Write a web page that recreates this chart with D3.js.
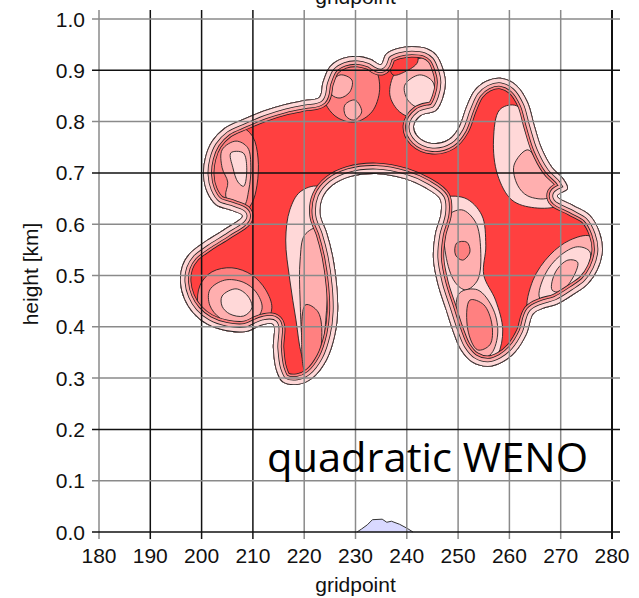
<!DOCTYPE html>
<html>
<head>
<meta charset="utf-8">
<script src="https://cdn.jsdelivr.net/npm/d3@7"></script>
<style>
body {margin: 0; background: #fff}
text {font-family: "Liberation Sans", Arial, sans-serif; fill: #111}
</style>
</head>
<body>
<div id="chart"></div>
<script>
// thermal bubble, quadratic WENO run: contour bands of the bubble
// read off the picture as outline polygons in (gridpoint, height km)

let xTicks = [180, 190, 200, 210, 220, 230, 240, 250, 260, 270, 280]
let yTicks = [0.0, 0.1, 0.2, 0.3, 0.4, 0.5, 0.6, 0.7, 0.8, 0.9, 1.0]
// lines that came out crisp black in the scan, the rest look grey
let darkX = [190, 200, 210, 280]
let darkY = [0.0, 0.2, 0.7, 0.9]

// outer edge of the bubble (outermost contour), goes round the arch and its hole
let outline = [
  [195.8,0.487],[196.2,0.519],[197.7,0.544],[200.7,0.567],[204.5,0.591],[207.9,0.616],
  [205.9,0.626],[202.8,0.637],[201.0,0.663],[200.3,0.696],[200.7,0.731],[202.0,0.762],
  [204.5,0.788],[208.1,0.805],[212.0,0.821],[216.2,0.834],[220.1,0.842],[222.9,0.848],
  [223.6,0.877],[225.0,0.908],[227.5,0.924],[230.5,0.928],[233.0,0.922],[234.9,0.912],
  [235.9,0.932],[238.1,0.943],[241.0,0.947],[243.9,0.943],[245.8,0.930],[247.0,0.906],
  [247.6,0.877],[247.0,0.844],[245.7,0.821],[242.7,0.811],[241.4,0.791],[242.3,0.770],
  [245.1,0.758],[248.2,0.766],[250.1,0.789],[251.5,0.827],[253.1,0.860],[255.4,0.879],
  [258.5,0.885],[261.4,0.871],[263.6,0.838],[264.9,0.793],[266.3,0.749],[268.3,0.712],
  [270.6,0.688],[271.4,0.669],[269.4,0.655],[272.5,0.637],[275.7,0.618],[277.6,0.585],
  [278.2,0.548],[277.2,0.511],[275.3,0.483],[272.7,0.464],[269.4,0.444],[266.5,0.435],
  [264.7,0.425],[263.4,0.386],[261.2,0.351],[258.7,0.331],[255.8,0.322],[252.7,0.331],
  [250.5,0.355],[249.0,0.390],[247.6,0.433],[246.0,0.483],[245.1,0.534],[245.5,0.581],
  [246.6,0.622],[246.4,0.649],[243.5,0.671],[239.6,0.688],[234.0,0.698],[228.9,0.692],
  [225.6,0.676],[223.6,0.651],[223.2,0.618],[224.4,0.585],[225.6,0.538],[226.4,0.481],
  [226.6,0.429],[226.0,0.382],[224.4,0.335],[221.7,0.300],[218.8,0.287],[215.8,0.292],
  [214.5,0.316],[213.9,0.359],[213.9,0.404],[212.1,0.404],[208.6,0.390],[204.7,0.392],
  [201.0,0.405],[198.3,0.427],[196.6,0.454]
]

// weaker (lighter) patches inside the bubble, level 1 = lightest pink, 4 = red
let swirlTopLeft = [
  {level: 3, pts: [[202.0,0.754],[204.5,0.780],[207.9,0.788],[210.0,0.770],[211.0,0.729],[210.8,0.676],
    [209.8,0.641],[207.9,0.620],[205.1,0.620],[202.6,0.637],[201.4,0.676],[201.2,0.719]]},
  {level: 2, pts: [[204.0,0.745],[206.7,0.762],[209.0,0.749],[209.6,0.710],[209.2,0.667],[208.2,0.635],
    [206.1,0.634],[204.7,0.655],[205.1,0.682],[204.0,0.710]]},
  {level: 1, pts: [[205.7,0.739],[208.1,0.739],[208.8,0.710],[208.2,0.674],[207.1,0.682],[206.1,0.710]]}
]
let swirlBottomLeft = [
  {level: 3, pts: [[199.7,0.481],[202.0,0.507],[205.9,0.515],[209.8,0.501],[212.5,0.472],[213.7,0.437],
    [212.5,0.409],[209.0,0.394],[204.7,0.394],[201.0,0.409],[199.3,0.442]]},
  {level: 2, pts: [[201.6,0.472],[204.5,0.491],[208.1,0.487],[210.6,0.468],[211.8,0.437],[210.4,0.413],
    [207.1,0.405],[203.6,0.417],[201.6,0.442]]},
  {level: 1, pts: [[204.0,0.460],[206.7,0.474],[209.0,0.460],[209.8,0.437],[208.2,0.421],[205.5,0.425],[204.0,0.440]]}
]
let leftColumn = [
  {level: 1, pts: [[219.2,0.663],[222.7,0.674],[226.0,0.647],[227.9,0.569],[228.5,0.472],[227.9,0.374],
    [226.0,0.312],[221.5,0.296],[219.5,0.345],[218.4,0.413],[217.2,0.491],[216.4,0.569],[217.2,0.628]]},
  {level: 2, pts: [[220.1,0.579],[222.7,0.593],[224.2,0.559],[224.6,0.491],[224.2,0.413],[223.4,0.345],
    [221.5,0.312],[219.9,0.355],[219.2,0.452],[219.2,0.530]]},
  {level: 3, pts: [[220.3,0.443],[222.7,0.429],[223.4,0.374],[222.1,0.320],[220.3,0.312],[219.5,0.374]]}
]
let rightColumn = [
  {level: 1, pts: [[246.4,0.649],[251.3,0.651],[254.6,0.618],[255.4,0.559],[255.0,0.501],[257.3,0.452],
    [258.7,0.394],[257.7,0.345],[255.2,0.320],[251.3,0.331],[248.0,0.384],[245.7,0.472],[244.5,0.550],[244.9,0.618]]},
  {level: 2, pts: [[247.6,0.612],[250.7,0.628],[253.4,0.604],[254.4,0.550],[253.8,0.491],[251.5,0.472],
    [249.4,0.487],[247.6,0.540]]},
  {level: 2, pts: [[250.3,0.466],[253.8,0.472],[256.9,0.433],[257.7,0.384],[256.2,0.345],[253.2,0.341],
    [250.7,0.374],[249.6,0.423]]},
  {level: 3, pts: [[252.3,0.452],[255.0,0.443],[256.6,0.404],[256.2,0.365],[253.8,0.355],[251.9,0.394]]},
  {level: 3, pts: [[249.7,0.563],[251.7,0.565],[252.3,0.546],[250.9,0.530],[249.5,0.540]]}
]
let rightLobe = [
  {level: 2, pts: [[263.6,0.433],[264.6,0.491],[267.9,0.540],[271.8,0.569],[275.7,0.577],[277.6,0.554],
    [276.8,0.511],[273.7,0.472],[269.4,0.443],[265.9,0.425]]},
  {level: 1, pts: [[265.9,0.456],[266.9,0.501],[269.8,0.538],[273.3,0.556],[275.7,0.546],[274.9,0.507],
    [271.8,0.472],[268.3,0.448]]},
  {level: 2, pts: [[268.3,0.472],[269.0,0.507],[271.4,0.530],[273.3,0.526],[272.1,0.491],[269.8,0.468]]}
]
let rightArm = [
  {level: 1, pts: [[258.1,0.823],[261.0,0.832],[264.0,0.807],[266.9,0.745],[269.8,0.690],[271.8,0.663],
    [269.8,0.637],[264.9,0.632],[260.5,0.647],[257.7,0.696],[256.9,0.764]]},
  {level: 2, pts: [[260.9,0.715],[263.6,0.745],[266.5,0.702],[269.0,0.671],[267.5,0.651],[263.6,0.655],
    [261.6,0.676]]}
]
let topBlobs = [
  {level: 3, pts: [[224.0,0.844],[225.0,0.897],[227.9,0.916],[231.2,0.920],[233.8,0.904],[234.7,0.862],
    [233.2,0.819],[229.9,0.799],[226.6,0.807],[224.6,0.827]]},
  {level: 2, pts: [[225.0,0.871],[227.0,0.891],[229.3,0.881],[228.9,0.858],[227.0,0.846],[225.4,0.852]]},
  {level: 2, pts: [[227.9,0.832],[229.9,0.842],[231.2,0.819],[229.7,0.803],[228.1,0.811]]},
  {level: 2, pts: [[237.7,0.895],[240.6,0.916],[244.1,0.924],[246.4,0.901],[247.0,0.852],[244.9,0.819],
    [241.6,0.807],[238.6,0.819],[236.7,0.852]]},
  {level: 1, pts: [[239.6,0.871],[242.5,0.891],[245.1,0.877],[245.1,0.842],[242.5,0.827],[240.2,0.842]]},
  {level: 4, pts: [[236.7,0.916],[238.6,0.936],[241.6,0.940],[242.1,0.916],[239.6,0.897],[237.3,0.891]]}
]

// small hill at the ground
let mountain = [[230.3,0],[231.2,0.006],[232.3,0.014],[233.3,0.024],[235.2,0.025],[236.1,0.019],
  [237.0,0.021],[238.6,0.015],[240.1,0.007],[241.2,0]]

let levelColors = ['#ffffff', '#ffd8d8', '#ffafaf', '#ff8080', '#ff4040']

let margin = {top: 19, bottom: 66, left: 99, right: 27}
let width = 639 - margin.left - margin.right
let height = 598 - margin.top - margin.bottom

let root = d3.select('#chart')
    .append('svg')
    .attr('width', width + margin.left + margin.right)
    .attr('height', height + margin.top + margin.bottom)

let svg = root.append('g')
    .attr('transform', `translate(${margin.left},${margin.top})`)

let x = d3.scaleLinear().domain([180, 280]).range([0, width])
let y = d3.scaleLinear().domain([0, 1]).range([height, 0])

let line = d3.line()
    .x(d => x(d[0]))
    .y(d => y(d[1]))
    .curve(d3.curveCatmullRomClosed.alpha(0.5))

root.append('defs').append('clipPath').attr('id', 'bubble')
    .append('path').attr('d', line(outline))

let body = svg.append('g').attr('clip-path', 'url(#bubble)')

body.append('path')
    .attr('d', line(outline))
    .attr('fill', levelColors[4])

let lobes = [].concat(swirlTopLeft, swirlBottomLeft, leftColumn, rightColumn, rightLobe, rightArm, topBlobs)
body.selectAll('.lobe')
    .data(lobes)
    .enter()
    .append('path')
    .attr('class', 'lobe')
    .attr('d', d => line(d.pts))
    .attr('fill', d => levelColors[d.level])
    .attr('stroke', '#222')
    .attr('stroke-width', 0.9)

// contour bands along the edge: wide strokes clipped to the inside of the outline
let bands = [
  {w: 22.6, c: '#222'}, {w: 21, c: levelColors[3]},
  {w: 17.6, c: '#222'}, {w: 16, c: levelColors[2]},
  {w: 10.6, c: '#222'}, {w: 9, c: levelColors[1]},
  {w: 1.6, c: '#222'}
]
body.selectAll('.band')
    .data(bands)
    .enter()
    .append('path')
    .attr('class', 'band')
    .attr('d', line(outline))
    .attr('fill', 'none')
    .attr('stroke', d => d.c)
    .attr('stroke-width', d => d.w)
    .attr('stroke-linejoin', 'round')

// hill
let hill = d3.line().x(d => x(d[0])).y(d => y(d[1]))
svg.append('path')
    .attr('d', hill(mountain) + 'Z')
    .attr('fill', '#d9d9ff')
    .attr('stroke', 'none')
svg.append('path')
    .attr('d', hill(mountain))
    .attr('fill', 'none')
    .attr('stroke', '#333')
    .attr('stroke-width', 1)

// grid, drawn over the field
svg.selectAll('.vgrid')
    .data(xTicks)
    .enter()
    .append('line')
    .attr('class', 'vgrid')
    .attr('x1', d => x(d)).attr('x2', d => x(d))
    .attr('y1', -9).attr('y2', height + 7)
    .attr('stroke', d => darkX.includes(d) ? '#111' : '#8a8a8a')
    .attr('stroke-width', d => d == 280 ? 2 : 1.5)

svg.selectAll('.hgrid')
    .data(yTicks)
    .enter()
    .append('line')
    .attr('class', 'hgrid')
    .attr('x1', -7).attr('x2', width + 8)
    .attr('y1', d => y(d)).attr('y2', d => y(d))
    .attr('stroke', d => darkY.includes(+d.toFixed(1)) ? '#111' : '#8a8a8a')
    .attr('stroke-width', 1.5)

svg.selectAll('.xlab')
    .data(xTicks)
    .enter()
    .append('text')
    .attr('class', 'xlab')
    .attr('x', d => x(d))
    .attr('y', height + 31)
    .attr('text-anchor', 'middle')
    .style('font-size', '21px')
    .text(d => d)

svg.selectAll('.ylab')
    .data(yTicks)
    .enter()
    .append('text')
    .attr('class', 'ylab')
    .attr('x', -14)
    .attr('y', d => y(d) + 7.5)
    .attr('text-anchor', 'end')
    .style('font-size', '21px')
    .text(d => d3.format('.1f')(d))

svg.append('text')
    .attr('x', width / 2)
    .attr('y', height + 60)
    .attr('text-anchor', 'middle')
    .style('font-size', '21px')
    .text('gridpoint')

// top axis title, cut by the edge of the picture as in the original
svg.append('text')
    .attr('x', width / 2)
    .attr('y', -15.5)
    .attr('text-anchor', 'middle')
    .style('font-size', '21px')
    .text('gridpoint')

root.append('text')
    .attr('transform', 'translate(37.5,274) rotate(-90)')
    .attr('text-anchor', 'middle')
    .style('font-size', '21px')
    .text('height [km]')

root.append('text')
    .attr('x', 267)
    .attr('y', 472)
    .attr('textLength', 321)
    .attr('lengthAdjust', 'spacingAndGlyphs')
    .style('font-family', '"Open Sans", "Noto Sans", sans-serif')
    .style('font-size', '40px')
    .style('fill', '#000')
    .text('quadratic WENO')
</script>
</body>
</html>
